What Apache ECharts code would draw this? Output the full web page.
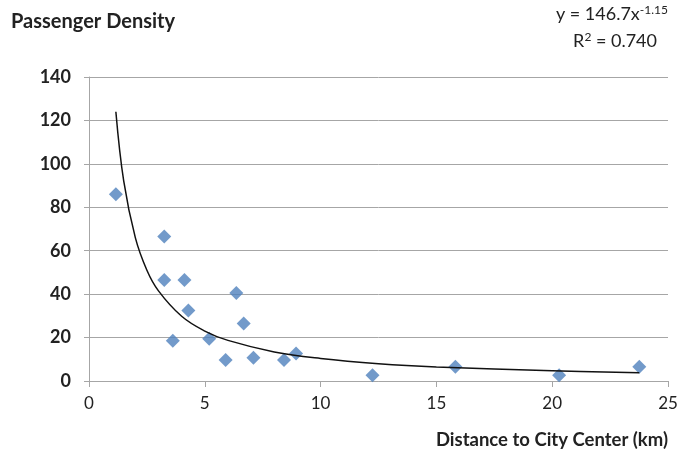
<!DOCTYPE html>
<html>
<head>
<meta charset="utf-8">
<script src="https://cdn.jsdelivr.net/npm/echarts@6/dist/echarts.min.js"></script>
<style>
  html, body { margin: 0; padding: 0; background: #fff; }
  #chart { width: 681px; height: 457px; }
</style>
</head>
<body>
<div id="chart"></div>
<script>
// observed points (distance km, passenger density)
var distKm = [1.16, 3.25, 3.25, 4.12, 4.29, 3.62, 5.19, 5.9, 6.36, 6.68, 7.1, 8.42, 8.94, 12.24, 15.82, 20.3, 23.76];
var density = [86, 66.5, 46.5, 46.5, 32.5, 18.5, 19.5, 9.7, 40.5, 26.5, 10.7, 9.7, 12.7, 2.7, 6.6, 2.7, 6.6];

// power trend line
var trendX = [1.16, 1.5, 2, 2.5, 3, 4, 5, 6, 8, 10, 12.5, 15, 20, 23.76];
var trendY = [124, 92, 66, 51, 41.5, 29.8, 23, 18.7, 13.4, 10.4, 8.0, 6.5, 4.7, 3.8];

var pts = distKm.map(function (d, i) { return [d, density[i]]; });
var trend = trendX.map(function (d, i) { return [d, trendY[i]]; });

var chart = echarts.init(document.getElementById('chart'));
var font = 'Lato, "Open Sans", sans-serif';

chart.setOption({
    animation: false,
    title: {
        text: 'Passenger Density',
        left: 6,
        top: 7,
        textStyle: { fontFamily: font, fontSize: 20, fontWeight: 'bold', color: '#222' }
    },
    graphic: [
        {
            type: 'text', right: 13, top: 4,
            style: {
                text: '{n|y = 146.7x}{s|-1.15}',
                rich: {
                    n: { fontFamily: font, fontSize: 18, fill: '#222' },
                    s: { fontFamily: font, fontSize: 12, fill: '#222', verticalAlign: 'top', padding: [0, 0, 9, 0] }
                }
            }
        },
        {
            type: 'text', right: 24, top: 31,
            style: {
                text: '{n|R}{s|2}{n| = 0.740}',
                rich: {
                    n: { fontFamily: font, fontSize: 18, fill: '#222' },
                    s: { fontFamily: font, fontSize: 12, fill: '#222', verticalAlign: 'top', padding: [0, 0, 9, 0] }
                }
            }
        }
    ],
    grid: { left: 89, right: 13, top: 77, bottom: 76, containLabel: false },
    xAxis: {
        type: 'value', min: 0, max: 25, interval: 5,
        name: 'Distance to City Center (km)',
        nameLocation: 'end',
        nameGap: 0,
        nameTextStyle: {
            fontFamily: font, fontSize: 18.5, fontWeight: 'bold', color: '#222',
            align: 'right', verticalAlign: 'top', padding: [50, 0, 0, 0]
        },
        axisLine: { show: true, lineStyle: { color: '#a6a6a6', width: 1 } },
        axisTick: { show: true, length: 6, lineStyle: { color: '#a6a6a6' } },
        axisLabel: { fontFamily: font, fontSize: 17, color: '#222', margin: 14 },
        splitLine: { show: false }
    },
    yAxis: {
        type: 'value', min: 0, max: 140, interval: 20,
        axisLine: { show: true, lineStyle: { color: '#a6a6a6', width: 1 } },
        axisTick: { show: true, length: 5, lineStyle: { color: '#a6a6a6' } },
        axisLabel: { fontFamily: font, fontSize: 18, fontWeight: 'bold', color: '#222', margin: 18 },
        splitLine: { show: true, lineStyle: { color: '#a6a6a6', width: 1 } }
    },
    series: [
        {
            type: 'scatter',
            data: pts,
            symbol: 'diamond',
            symbolSize: [14, 14],
            itemStyle: { color: '#4f81bd' },
            z: 3
        },
        {
            type: 'line',
            data: trend,
            smooth: 0.4,
            showSymbol: false,
            lineStyle: { color: '#111', width: 1.5 },
            z: 4
        }
    ]
});
</script>
</body>
</html>
